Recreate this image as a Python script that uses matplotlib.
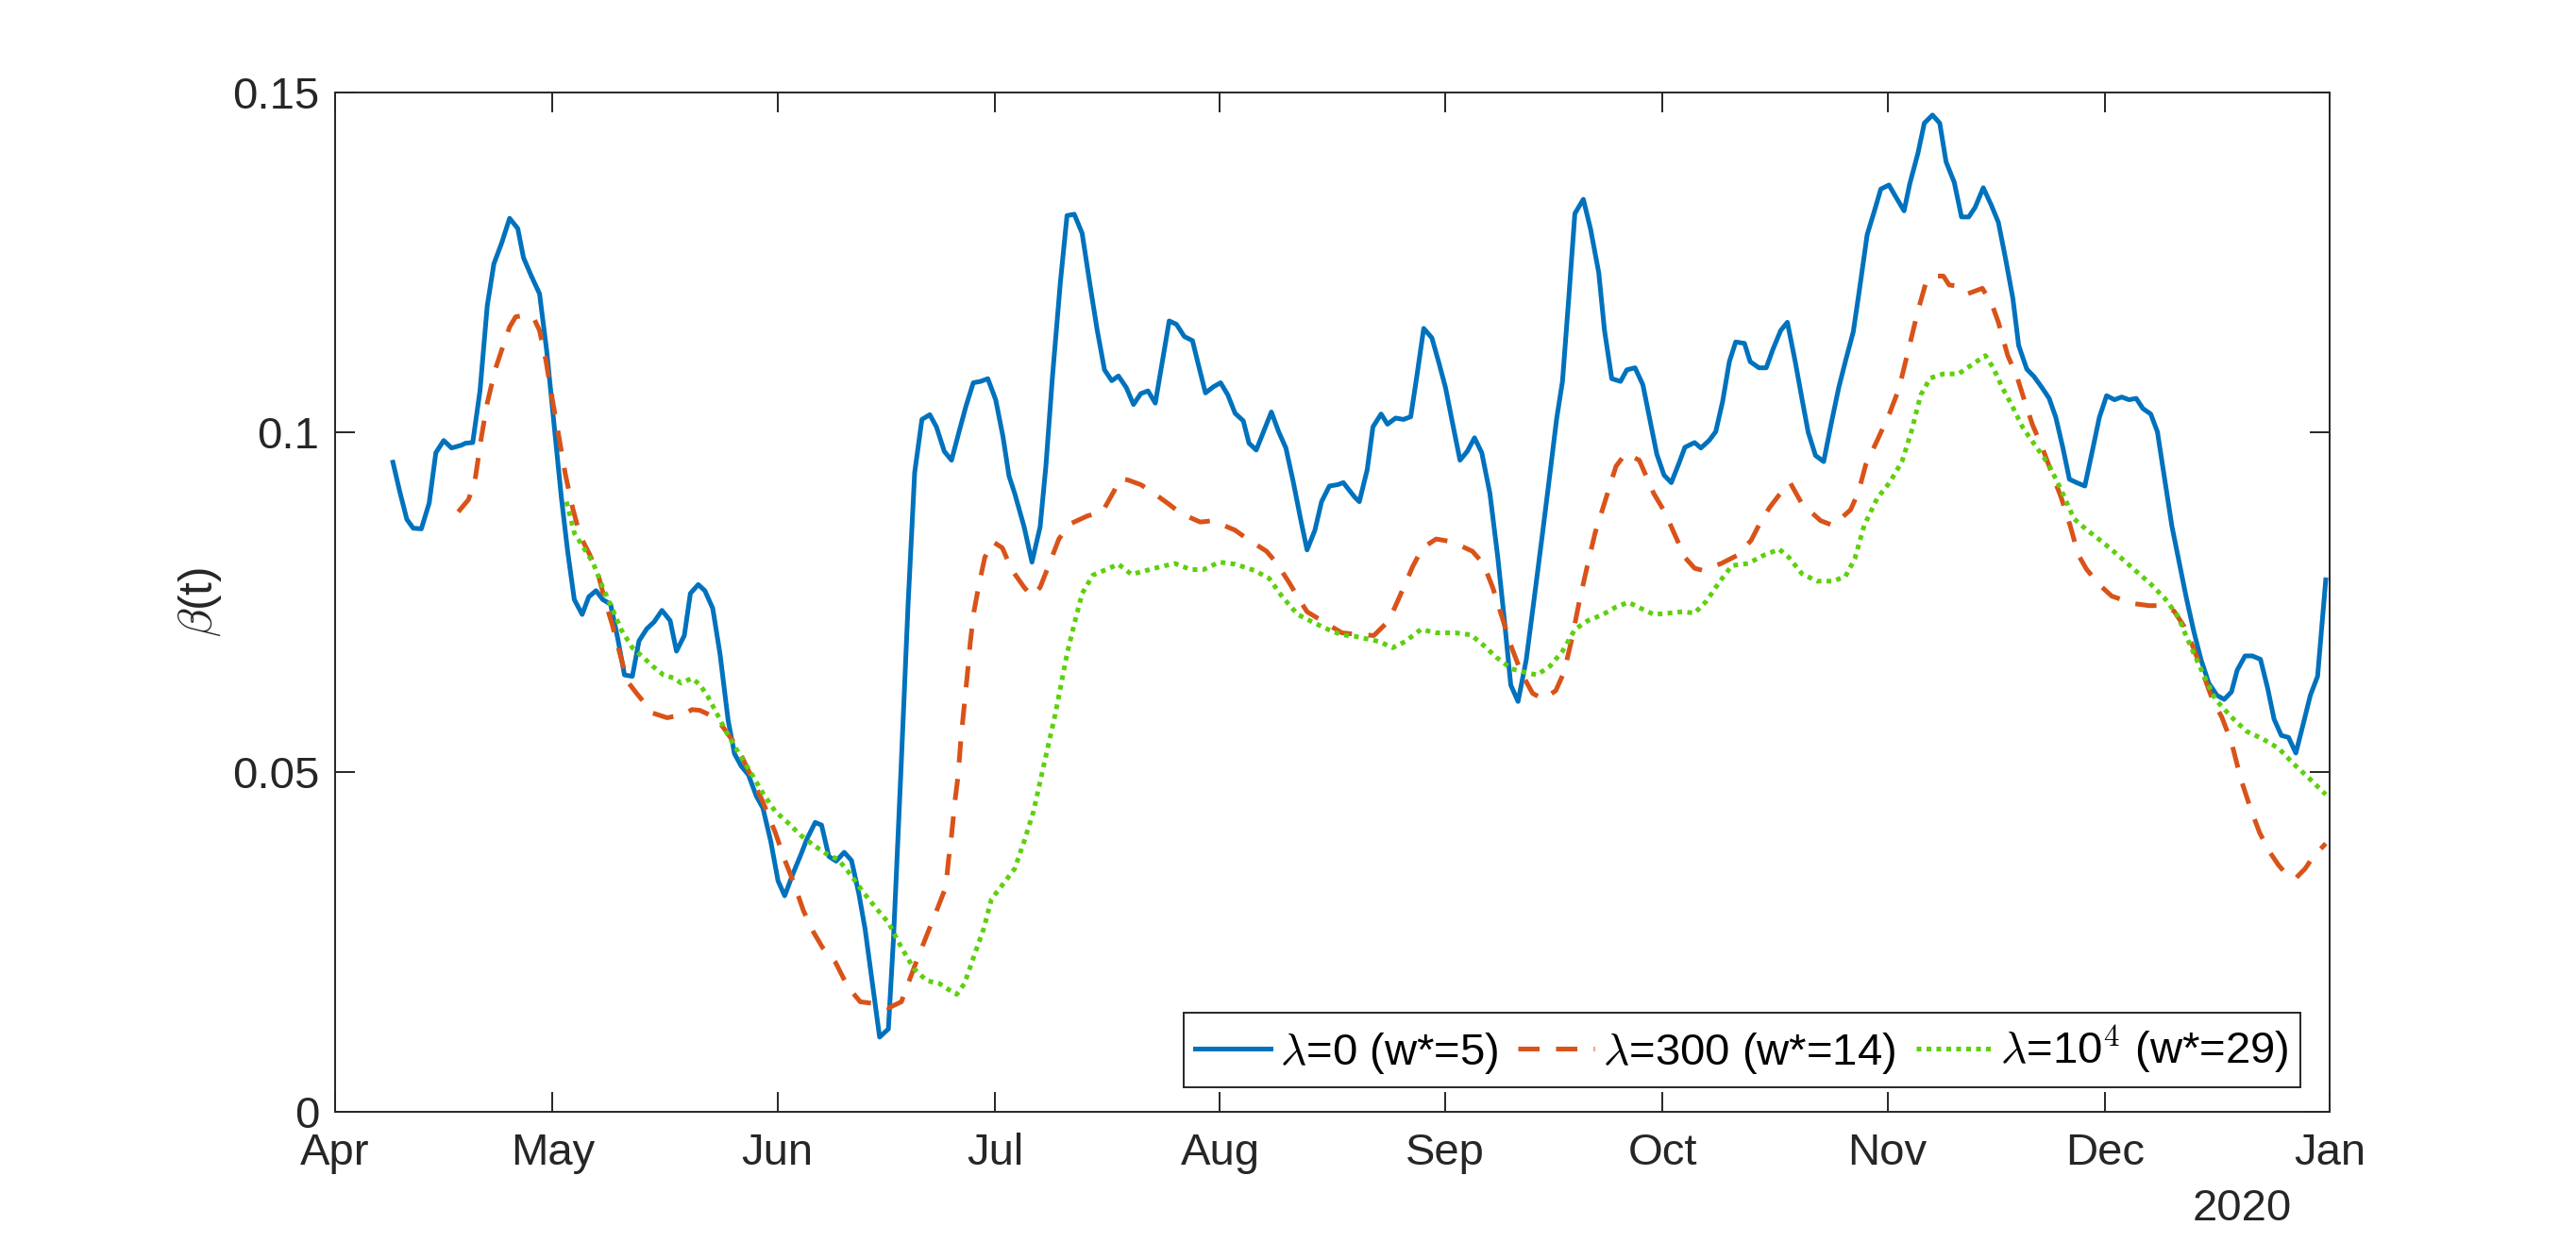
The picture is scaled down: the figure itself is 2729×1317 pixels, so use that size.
import numpy as np
import matplotlib
matplotlib.use("Agg")
import matplotlib.pyplot as plt
import matplotlib.dates as mdates

plt.rcParams['font.family'] = ['Liberation Sans', 'DejaVu Sans']
plt.rcParams['mathtext.fontset'] = 'cm'

# days after 2020-04-01 and beta(t) values
blue_day = [8.0, 8.9, 9.9, 10.8, 11.9, 13.0, 13.9, 15.0, 16.1, 17.4, 18.0, 19.0, 20.0, 21.0, 21.9, 23.0,
            24.1, 25.2, 26.0, 27.1, 28.2, 29.2, 30.2, 31.2, 32.1, 33.0, 34.1, 35.0, 36.0, 36.9, 38.0, 39.0,
            39.9, 41.0, 41.9, 43.0, 44.0, 45.1, 46.2,
            47.1, 48.15, 49.0, 50.1, 51.0, 52.1, 53.1, 54.2, 55.1, 56.0, 57.0, 58.1, 59.0, 60.1, 61.1, 62.0,
            63.1, 64.2, 65.1, 66.2, 67.1, 68.1, 69.1, 70.2, 71.2, 72.2, 73.1, 74.2, 75.1, 76.3, 77.0, 78.0,
            79.0, 79.9, 80.9, 82.0, 82.9, 84.0, 85.0, 86.1, 87.0, 88.0, 89.0, 90.0, 91.1, 92.1, 92.9,
            93.7, 95.0, 96.1, 97.2, 98.0, 98.9, 100.0, 100.9, 101.9, 103.0, 104.1, 105.1, 106.1, 107.1, 108.0,
            109.1, 110.1, 111.1, 112.1, 113.1, 114.0, 115.0, 116.0, 117.1, 118.2, 119.1, 120.0, 121.1, 122.1,
            123.1, 124.1, 125.2, 126.0, 127.0, 128.1, 129.1, 130.1, 131.1, 132.1, 133.1, 134.0, 135.1, 136.0,
            137.1, 138.2, 139.0,
            140.55, 141.2, 142.3, 143.1, 144.2, 145.1, 146.2, 147.3, 148.3, 149.1, 150.1, 151.2, 152.2, 153.1,
            154.1, 155.1, 156.1, 157.1, 158.1, 159.2, 160.3, 161.2, 162.1, 163.1, 164.2, 165.3, 166.4, 167.5,
            168.4, 169.2, 170.1, 170.9, 172.1, 173.1, 174.2, 175.0, 176.0, 177.2, 178.1, 179.2, 180.3, 181.2,
            182.2, 183.2, 184.2, 185.2, 186.1,
            187.4, 188.3, 189.4, 190.35, 191.3, 192.2, 193.1, 194.3, 195.1, 196.3, 197.3, 198.2, 199.3, 200.2,
            201.3, 202.2, 203.1, 204.1, 205.2, 206.3, 207.3, 208.3, 209.3, 210.2, 211.2, 212.2, 213.1, 214.2,
            215.3, 216.3, 217.1, 218.2, 219.1, 220.2, 221.2, 222.1, 223.2, 224.2, 225.2, 226.1, 227.2, 228.3,
            229.3, 230.3, 231.3,
            232.1, 233.2, 234.2, 235.3, 236.3, 237.2, 238.2, 239.1, 240.1, 241.2, 242.2, 243.2, 244.2, 245.3,
            246.3, 247.3, 248.3, 249.2, 250.3, 251.2, 252.2, 253.2, 254.2, 255.2, 256.2, 257.2, 258.3, 259.4,
            260.4, 261.4, 262.2, 263.3, 264.3, 265.4, 266.4, 267.3, 268.3, 269.3, 270.3, 271.3, 272.3, 273.3,
            274.4]
blue_val = [0.0956, 0.0914, 0.0872, 0.0859, 0.0858, 0.0896, 0.0970, 0.0988, 0.0977, 0.0981, 0.0984, 0.0985,
            0.1061, 0.1186, 0.1248, 0.1279, 0.1315, 0.1300, 0.1257, 0.1230, 0.1204, 0.1119, 0.1012, 0.0905,
            0.0825, 0.0754, 0.0732, 0.0758, 0.0767, 0.0754, 0.0747, 0.0696, 0.0643, 0.0641, 0.0693, 0.0711,
            0.0721, 0.0738, 0.0723,
            0.0678, 0.0701, 0.0763, 0.0776, 0.0767, 0.0741, 0.0674, 0.0576, 0.0527, 0.0509, 0.0496, 0.0465,
            0.0447, 0.0398, 0.0340, 0.0318, 0.0349, 0.0378, 0.0402, 0.0426, 0.0422, 0.0376, 0.0369, 0.0382,
            0.0370, 0.0322, 0.0269, 0.0180, 0.0110, 0.0122, 0.0256, 0.0496, 0.0745, 0.0941, 0.1019, 0.1026,
            0.1008, 0.0972, 0.0959, 0.1003, 0.1039, 0.1073, 0.1075, 0.1079, 0.1048, 0.0994, 0.0936,
            0.0910, 0.0861, 0.0809, 0.0861, 0.0950, 0.1083, 0.1221, 0.1319, 0.1321, 0.1293, 0.1217, 0.1150,
            0.1092, 0.1076, 0.1083, 0.1066, 0.1041, 0.1057, 0.1061, 0.1043, 0.1101, 0.1164, 0.1159, 0.1141,
            0.1135, 0.1097, 0.1058, 0.1067, 0.1073, 0.1055, 0.1028, 0.1017, 0.0984, 0.0974, 0.1003, 0.1030,
            0.1001, 0.0977, 0.0928, 0.0874, 0.0827, 0.0856, 0.0898, 0.0921, 0.0923, 0.0926,
            0.0905, 0.0898, 0.0945, 0.1008, 0.1027, 0.1012, 0.1021, 0.1019, 0.1023, 0.1079, 0.1153, 0.1139,
            0.1101, 0.1066, 0.1012, 0.0959, 0.0972, 0.0992, 0.0970, 0.0910, 0.0816, 0.0723, 0.0628, 0.0604,
            0.0665, 0.0754, 0.0848, 0.0941, 0.1021, 0.1075, 0.1199, 0.1322, 0.1343, 0.1299, 0.1235, 0.1150,
            0.1079, 0.1075, 0.1092, 0.1095, 0.1070, 0.1021, 0.0968, 0.0937, 0.0926, 0.0953, 0.0978,
            0.0985, 0.0977, 0.0988, 0.1001, 0.1046, 0.1104, 0.1133, 0.1131, 0.1104, 0.1095, 0.1095, 0.1122,
            0.1150, 0.1162, 0.1104, 0.1050, 0.1000, 0.0966, 0.0957, 0.1015, 0.1066, 0.1108, 0.1148, 0.1215,
            0.1291, 0.1326, 0.1358, 0.1364, 0.1344, 0.1326, 0.1366, 0.1411, 0.1455, 0.1467, 0.1455, 0.1398,
            0.1368, 0.1317, 0.1317, 0.1331, 0.1360, 0.1335, 0.1309, 0.1255, 0.1197,
            0.1128, 0.1093, 0.1082, 0.1066, 0.1050, 0.1022, 0.0976, 0.0931, 0.0926, 0.0921, 0.0971, 0.1022,
            0.1054, 0.1048, 0.1052, 0.1048, 0.1050, 0.1035, 0.1027, 0.1001, 0.0931, 0.0862, 0.0809, 0.0756,
            0.0708, 0.0666, 0.0631, 0.0613, 0.0607, 0.0618, 0.0650, 0.0671, 0.0671, 0.0666, 0.0623, 0.0578,
            0.0554, 0.0551, 0.0528, 0.0570, 0.0613, 0.0641, 0.0783]

orange_day = [17.0, 18.4, 19.3, 20.2, 21.0, 22.1, 23.2, 24.1, 24.9, 26.0, 27.4, 28.2, 29.1, 29.9, 30.8, 31.8,
              32.8, 33.8, 35.1, 36.2, 37.3, 38.2, 39.3, 40.3, 41.6, 43.8, 45.8,
              48.15, 49.2, 50.3, 52.5, 53.8, 55.5, 57.3, 59.0, 60.7, 62.0, 63.3, 64.6, 66.0, 67.2, 69.0, 70.7,
              72.4, 74.6, 76.35, 78.1, 79.8, 81.6, 83.1, 84.2, 84.6, 85.0, 85.5, 85.9, 86.3, 86.8, 87.2, 87.6,
              88.1, 88.7, 89.6, 90.7, 92.0, 93.3,
              95.0, 96.1, 97.2, 98.5, 99.8, 101.3, 103.7, 105.8, 107.4, 108.2, 109.3, 111.1, 112.4, 115.0,
              116.7, 119.3, 121.0, 124.1, 125.8, 128.4, 129.7, 131.4, 132.7, 134.0, 136.0, 138.8,
              140.55, 143.2, 145.3, 146.6, 148.6, 149.9, 151.8, 154.0, 156.8, 158.3, 159.6, 160.9, 162.2,
              163.5, 165.1, 166.6, 168.3, 169.4, 170.5, 171.6, 172.7, 173.7, 175.3, 176.6, 177.9, 179.8,
              181.8, 183.3, 184.8, 186.1,
              187.4, 188.5, 191.1, 193.3, 195.2, 196.5, 197.8, 199.1, 200.6, 202.2, 204.8, 206.5, 208.9,
              210.0, 211.0, 212.6, 214.3, 215.6, 216.5, 217.3, 218.2, 219.3, 220.4, 221.7, 222.5, 223.8,
              225.1, 227.1, 228.4, 229.3, 230.6,
              231.9, 233.0, 234.0, 235.3, 236.6, 237.9, 239.2, 240.3, 241.4, 243.1, 244.9, 247.9, 250.1,
              252.2, 253.5, 254.9, 256.2, 257.5, 258.8, 260.1, 261.4, 262.7, 264.0, 265.3, 266.6, 267.9,
              269.2, 270.3, 271.6, 272.6, 274.4]
orange_val = [0.0883, 0.0901, 0.0928, 0.0994, 0.1043, 0.1092, 0.1128, 0.1155, 0.1170, 0.1172, 0.1168, 0.1150,
              0.1106, 0.1052, 0.0999, 0.0937, 0.0888, 0.0848, 0.0821, 0.0794, 0.0750, 0.0718, 0.0674, 0.0634,
              0.0616, 0.0587, 0.0580,
              0.0585, 0.0592, 0.0591, 0.0580, 0.0562, 0.0536, 0.0496, 0.0456, 0.0411, 0.0371, 0.0336, 0.0296,
              0.0264, 0.0242, 0.0220, 0.0184, 0.0162, 0.0159, 0.0153, 0.0162, 0.0211, 0.0260, 0.0300, 0.0331,
              0.0371, 0.0407, 0.0460, 0.0496, 0.0549, 0.0603, 0.0647, 0.0691, 0.0736, 0.0772, 0.0816, 0.0839,
              0.0830, 0.0798,
              0.0772, 0.0759, 0.0772, 0.0807, 0.0843, 0.0865, 0.0877, 0.0883, 0.0914, 0.0932, 0.0930, 0.0923,
              0.0914, 0.0894, 0.0880, 0.0868, 0.0870, 0.0856, 0.0843, 0.0825, 0.0809, 0.0781, 0.0758, 0.0736,
              0.0723, 0.0705,
              0.0703, 0.0701, 0.0723, 0.0754, 0.0803, 0.0830, 0.0843, 0.0839, 0.0825, 0.0807, 0.0772, 0.0727,
              0.0683, 0.0647, 0.0616, 0.0607, 0.0620, 0.0647, 0.0696, 0.0754, 0.0807, 0.0852, 0.0906, 0.0950,
              0.0969, 0.0959, 0.0910, 0.0883, 0.0847, 0.0816,
              0.0800, 0.0797, 0.0807, 0.0819, 0.0841, 0.0868, 0.0890, 0.0908, 0.0926, 0.0895, 0.0870, 0.0863,
              0.0886, 0.0912, 0.0952, 0.0988, 0.1028, 0.1064, 0.1104, 0.1139, 0.1179, 0.1220, 0.1230, 0.1230,
              0.1217, 0.1215, 0.1204, 0.1212, 0.1188, 0.1162, 0.1113,
              0.1080, 0.1043, 0.1011, 0.0979, 0.0942, 0.0905, 0.0862, 0.0820, 0.0799, 0.0777, 0.0759, 0.0748,
              0.0745, 0.0745, 0.0737, 0.0714, 0.0682, 0.0645, 0.0607, 0.0581, 0.0544, 0.0490, 0.0448, 0.0411,
              0.0384, 0.0363, 0.0347, 0.0344, 0.0358, 0.0374, 0.0395]

green_day = [31.9, 33.0, 34.3, 35.6, 36.9, 38.2, 39.5, 41.0, 42.5, 43.8, 45.3,
             46.85, 47.7, 49.2, 50.3, 51.4, 52.7, 54.0, 55.5, 57.3, 59.0, 60.7, 62.5, 64.2, 65.9, 67.7, 69.4,
             71.1, 72.9, 74.6, 76.35, 78.1, 79.8, 81.6, 83.3, 84.6, 85.7, 86.8, 88.1, 89.4, 90.5, 91.8, 92.8,
             93.7, 95.0, 96.3, 97.4, 99.3, 100.9, 101.9, 103.0, 104.5, 106.3, 108.0, 109.8, 111.9, 114.1,
             115.8, 118.0, 119.7, 121.9, 124.1, 126.7, 128.8, 130.6, 132.7, 134.9, 137.1, 138.8,
             140.55, 142.3, 144.0, 145.8, 147.5, 149.7, 151.8, 154.4, 156.6, 158.3, 160.1, 162.2, 164.0,
             165.7, 167.5, 169.2, 170.9, 172.7, 174.8, 176.6, 178.3, 180.0, 181.8, 183.9, 185.7,
             187.4, 189.1, 190.9, 192.6, 194.8, 196.9, 199.1, 200.4, 202.2, 204.3, 206.5, 208.2, 209.5,
             210.8, 212.6, 214.3, 216.0, 217.3, 218.6, 219.9, 221.7, 223.8, 225.6, 227.5, 228.6, 229.9,
             231.0, 232.7, 234.5, 236.2, 237.9, 239.7, 241.4, 243.6, 245.7, 247.9, 250.1, 252.2, 254.0,
             255.7, 257.5, 259.2, 261.4, 263.5, 265.7, 267.9, 270.0, 272.2, 274.4]
green_val = [0.0898, 0.0852, 0.0830, 0.0808, 0.0772, 0.0741, 0.0709, 0.0683, 0.0669, 0.0656, 0.0643,
             0.0638, 0.0631, 0.0638, 0.0629, 0.0611, 0.0585, 0.0558, 0.0531, 0.0500, 0.0469, 0.0442, 0.0425,
             0.0407, 0.0393, 0.0380, 0.0371, 0.0349, 0.0322, 0.0300, 0.0278, 0.0242, 0.0211, 0.0193, 0.0189,
             0.0180, 0.0173, 0.0189, 0.0229, 0.0269, 0.0313, 0.0331, 0.0345,
             0.0358, 0.0398, 0.0442, 0.0496, 0.0585, 0.0674, 0.0718, 0.0763, 0.0790, 0.0798, 0.0806, 0.0791,
             0.0797, 0.0803, 0.0807, 0.0798, 0.0798, 0.0809, 0.0806, 0.0797, 0.0785, 0.0758, 0.0732, 0.0720,
             0.0709, 0.0702,
             0.0700, 0.0696, 0.0692, 0.0683, 0.0692, 0.0710, 0.0705, 0.0705, 0.0702, 0.0687, 0.0669, 0.0652,
             0.0647, 0.0643, 0.0656, 0.0678, 0.0710, 0.0723, 0.0732, 0.0743, 0.0750, 0.0741, 0.0732, 0.0734,
             0.0736,
             0.0734, 0.0752, 0.0781, 0.0804, 0.0807, 0.0819, 0.0828, 0.0816, 0.0792, 0.0781, 0.0781, 0.0788,
             0.0814, 0.0863, 0.0903, 0.0926, 0.0957, 0.1001, 0.1055, 0.1080, 0.1086, 0.1086, 0.1099, 0.1113,
             0.1095, 0.1064,
             0.1043, 0.1006, 0.0979, 0.0953, 0.0916, 0.0873, 0.0857, 0.0839, 0.0820, 0.0799, 0.0779, 0.0756,
             0.0730, 0.0687, 0.0645, 0.0607, 0.0581, 0.0560, 0.0549, 0.0535, 0.0512, 0.0490, 0.0467]

labels = [r'$\lambda$=0 (w*=5)', r'$\lambda$=300 (w*=14)', r'$\lambda$=10$^4$ (w*=29)']


def to_dates(days):
    hours = np.round(np.array(days) * 24).astype(int)
    return np.datetime64('2020-04-01T00') + hours.astype('timedelta64[h]')


fig = plt.figure(figsize=(13.645, 6.585), dpi=200)
ax = fig.add_axes([0.13, 0.1055, 0.7745, 0.82])

ax.plot(to_dates(blue_day), blue_val, color='#0072BD', lw=1.8, label=labels[0])
ax.plot(to_dates(orange_day), orange_val, color='#D95319', lw=1.8, ls=(0, (4.5, 3.5)), label=labels[1])
ax.plot(to_dates(green_day), green_val, color='#5ED00E', lw=1.8, ls=(0, (1, 1.1)),
        dash_capstyle='butt', label=labels[2])

ax.set_xlim(np.datetime64('2020-04-01'), np.datetime64('2021-01-01'))
ax.set_ylim(0, 0.15)
ax.xaxis.set_major_locator(mdates.MonthLocator())
ax.xaxis.set_major_formatter(mdates.DateFormatter('%b'))
ax.set_yticks([0, 0.05, 0.1, 0.15])
ax.set_yticklabels(['0', '0.05', '0.1', '0.15'])

dark = '#262626'
for s in ax.spines.values():
    s.set_linewidth(0.7)
    s.set_color(dark)
ax.tick_params(direction='in', top=True, right=True, length=7.6, width=0.7,
               labelsize=17, colors=dark)
ax.tick_params(axis='x', pad=8)
ax.tick_params(axis='y', pad=6)

ax.set_ylabel(r'$\beta$(t)', fontsize=18, color=dark, labelpad=3)
ax.text(0.981, -0.095, '2020', transform=ax.transAxes, ha='right', va='center',
        fontsize=17, color=dark)

leg = ax.legend(loc='lower right', bbox_to_anchor=(0.985, 0.024), ncol=3, fontsize=17,
                handlelength=1.7, handletextpad=0.2, columnspacing=0.45, borderpad=0.25,
                borderaxespad=0, fancybox=False, framealpha=1, edgecolor=dark)
leg.get_frame().set_linewidth(0.7)

plt.savefig('out.png', dpi=200, facecolor='white')
